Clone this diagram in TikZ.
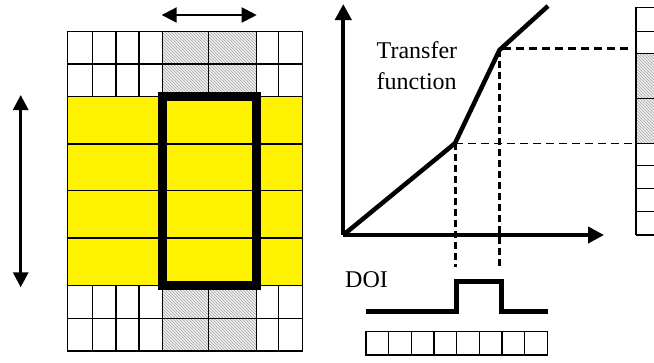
\documentclass[tikz,border=0pt]{standalone}
\usepackage{fontspec}
\setmainfont{Liberation Serif}
\usetikzlibrary{arrows.meta,patterns}
\tikzset{
  gridline/.style={draw=black,line width=1.2pt},
  hatchcell/.style={fill=gray!12,pattern color=gray!70,pattern=north west lines},
  bigtip/.style={-{Triangle[length=15pt,width=15pt]}},
  bothtips/.style={{Triangle[length=15pt,width=15pt]}-{Triangle[length=15pt,width=15pt]}},
  axis/.style={line width=4pt,-{Triangle[length=16pt,width=16pt]}},
  curve/.style={line width=4.5pt,line join=round},
  thindash/.style={line width=1.3pt,dash pattern=on 8pt off 5pt},
  thickdash/.style={line width=3pt,dash pattern=on 8pt off 5pt},
  vdash/.style={line width=3pt,dash pattern=on 7pt off 4pt},
  lbl/.style={font=\fontsize{24}{28}\selectfont,inner sep=0pt}
}
\begin{document}
\begin{tikzpicture}[x=1pt,y=-1pt]
\useasboundingbox (0,0) rectangle (654,362);
\begin{scope}
\clip (0,0) rectangle (654,362);
% ---------- left grid ----------
% hatched cells (top and bottom)
\foreach \ya/\yb in {31.7/64,64/96.7,285.7/318.3,318.3/351}{
  \fill[gray!12] (162.7,\ya) rectangle (256.3,\yb);
  \fill[hatchcell] (162.7,\ya) rectangle (256.3,\yb);
}
% yellow band
\fill[yellow] (67.3,96.7) rectangle (302.7,285.7);
% horizontal lines
\foreach \y in {31.7,64,96.7,144,190.7,238,285.7,318.3,351}
  \draw[gridline] (67.3,\y) -- (302.7,\y);
% vertical lines in top and bottom blocks
\foreach \x in {67.3,92.3,116,139,162.7,208.5,256.3,278.5,302.7}{
  \draw[gridline] (\x,31.7) -- (\x,96.7);
  \draw[gridline] (\x,285.7) -- (\x,351);
}
\draw[gridline] (67.3,96.7) -- (67.3,285.7);
\draw[gridline] (302.7,96.7) -- (302.7,285.7);
% thick window
\draw[line width=9pt] (162,96.2) rectangle (256.3,285.8);
% arrows
\coordinate (ha) at (161.7,15);
\coordinate (hb) at (256.7,15);
\draw[line width=2pt,bothtips] (ha) -- (hb);
\coordinate (va) at (20.7,95);
\coordinate (vb) at (20.7,287.3);
\draw[line width=3pt,bothtips] (va) -- (vb);
% ---------- transfer function ----------
\coordinate (O) at (343.3,235);
\coordinate (yt) at (343.3,4);
\coordinate (xt) at (604,235);
\coordinate (k1) at (455,143.3);
\coordinate (k2) at (499.5,50);
\coordinate (k3) at (548,6);
\draw[axis] (O) -- (yt);
\draw[axis] (O) -- (xt);
\draw[curve] (O) -- (k1) -- (k2) -- (k3);
% right grid
\foreach \ya/\yb in {53.3/98.3,98.3/143.3}{
  \fill[gray!12] (636,\ya) rectangle (700,\yb);
  \fill[hatchcell] (636,\ya) rectangle (700,\yb);
}
\foreach \y in {7.3,31.7,53.3,98.3,143.3,165.7,188.3,211.7,235}
  \draw[gridline] (636,\y) -- (700,\y);
\draw[gridline] (636,7.3) -- (636,235);
\coordinate (rg1) at (636,143.3);
\coordinate (rg2) at (628,48);
\draw[thindash] (k1) -- (rg1);
\draw[thickdash] (503,48) -- (rg2);
% vertical dashed
\coordinate (d1) at (455,266.7);
\coordinate (d2) at (499.5,266.7);
\draw[vdash] (k1) -- (d1);
\draw[vdash] (k2) -- (d2);
% labels
\node[lbl,anchor=base west] (tf1) at (376.5,58.5) {Transfer};
\node[lbl,anchor=base west] (tf2) at (376.5,89) {function};
\node[lbl,anchor=base west] (doi) at (345,287.5) {DOI};
% pulse
\coordinate (p0) at (366,311.7);
\coordinate (p1) at (456.7,311.7);
\coordinate (p2) at (456.7,281);
\coordinate (p3) at (501.7,281);
\coordinate (p4) at (501.7,311.7);
\coordinate (p5) at (548.3,311.7);
\draw[line width=5pt] (p0) -- (p1) -- (p2) -- (p3) -- (p4) -- (p5);
% bottom cell row
\draw[gridline] (366,331.7) rectangle (547.3,355);
\foreach \i in {1,...,7}
  \draw[gridline] ({366+\i*22.66},331.7) -- ({366+\i*22.66},355);
\end{scope}
\end{tikzpicture}
\end{document}
